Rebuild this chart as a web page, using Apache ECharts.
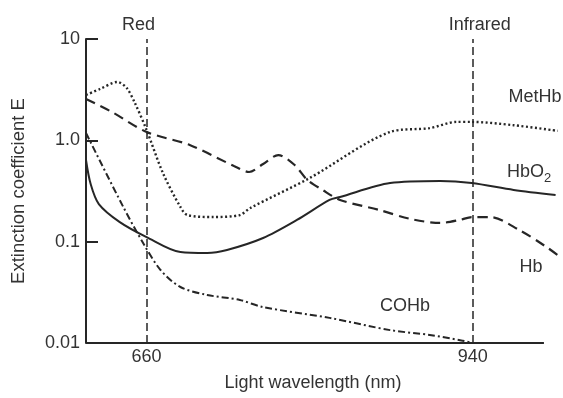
<!DOCTYPE html>
<html>
<head>
<meta charset="utf-8">
<script src="https://cdn.jsdelivr.net/npm/echarts@6/dist/echarts.min.js"></script>
<style>
html, body { margin: 0; padding: 0; background: #fff; }
#chart { width: 563px; height: 398px; }
</style>
</head>
<body>
<div id="chart"></div>
<script>
// wavelength (nm) / extinction coefficient
var hbNm = [608, 630, 660, 697, 735, 748, 760, 773, 787, 798, 811, 826, 860, 886, 912, 929, 939, 955, 980, 1002, 1015];
var hbE = [2.56, 1.91, 1.21, 0.90, 0.558, 0.487, 0.584, 0.716, 0.571, 0.406, 0.324, 0.258, 0.205, 0.168, 0.153, 0.164, 0.175, 0.175, 0.130, 0.0905, 0.0706];

var hbo2Nm = [608, 612, 619, 637, 660, 689, 712, 729, 760, 789, 817, 826, 869, 912, 939, 975, 1011];
var hbo2E = [0.64, 0.37, 0.235, 0.156, 0.111, 0.079, 0.0773, 0.0828, 0.1087, 0.1637, 0.258, 0.276, 0.379, 0.397, 0.379, 0.324, 0.289];

var metNm = [608, 620, 635, 643, 650, 660, 674, 689, 695, 717, 740, 749, 800, 869, 903, 926, 939, 975, 1013];
var metE = [2.80, 3.21, 3.77, 3.28, 2.33, 1.265, 0.476, 0.22, 0.183, 0.175, 0.183, 0.215, 0.425, 1.21, 1.32, 1.52, 1.52, 1.41, 1.24];

var cohbNm = [608, 640, 657, 672, 689, 712, 740, 760, 817, 869, 903, 930, 940];
var cohbE = [1.18, 0.22, 0.097, 0.0525, 0.0357, 0.0298, 0.0266, 0.0226, 0.0177, 0.0134, 0.0120, 0.0106, 0.01];

var yTickText = ['0.01', '0.1', '1.0', '10'];
var xTickValues = [660, 940];
var bands = [{ nm: 660, name: 'Red' }, { nm: 940, name: 'Infrared' }];

var FONT = "'Liberation Sans', Arial, sans-serif";
var INK = '#262626';
var TXT = '#333';

function pairs(xs, ys) {
	var out = [];
	for (var i = 0; i < xs.length; i++) {
		out.push([xs[i], ys[i]]);
	}
	return out;
}

function curve(name, xs, ys, type, width) {
	return {
		name: name,
		type: 'line',
		data: pairs(xs, ys),
		smooth: 0.3,
		symbol: 'none',
		clip: true,
		lineStyle: { color: INK, width: width, type: type }
	};
}

var myChart = echarts.init(document.getElementById('chart'));

var option = {
	animation: false,
	backgroundColor: '#fff',
	textStyle: { fontFamily: FONT },
	grid: { left: 86, right: 1, top: 39, bottom: 55, outerBoundsMode: 'none' },
	xAxis: {
		type: 'value',
		min: 608,
		max: 1016.5,
		name: 'Light wavelength (nm)',
		nameLocation: 'middle',
		nameGap: 31,
		nameTextStyle: { fontSize: 18, color: TXT, fontFamily: FONT, padding: [0, 22, 0, 0] },
		axisLine: { show: false },
		axisTick: { show: false },
		splitLine: { show: false },
		axisLabel: {
			customValues: xTickValues,
			margin: 5,
			fontSize: 18,
			color: TXT,
			fontFamily: FONT
		}
	},
	yAxis: {
		type: 'log',
		logBase: 10,
		min: 0.01,
		max: 10,
		name: 'Extinction coefficient E',
		nameLocation: 'middle',
		nameRotate: 90,
		nameGap: 58,
		nameTextStyle: { fontSize: 18.5, color: TXT, fontFamily: FONT },
		axisLine: { show: true, lineStyle: { color: INK, width: 2 } },
		axisTick: { show: true, inside: true, length: 12, lineStyle: { color: INK, width: 2 } },
		splitLine: { show: false },
		axisLabel: {
			margin: 6,
			fontSize: 18,
			color: TXT,
			fontFamily: FONT,
			formatter: function(v) {
				var k = Math.round(Math.log(v) / Math.LN10) + 2;
				return yTickText[k] || '';
			}
		}
	},
	series: [
		curve('MetHb', metNm, metE, [2, 2.5], 2.4),
		curve('Hb', hbNm, hbE, [10, 6], 2.2),
		curve('HbO2', hbo2Nm, hbo2E, 'solid', 2),
		curve('COHb', cohbNm, cohbE, [7, 3, 2, 3], 2),
		{
			name: 'guides',
			type: 'line',
			data: [],
			markLine: {
				silent: true,
				symbol: 'none',
				animation: false,
				data: [
					{
						xAxis: bands[0].nm,
						lineStyle: { color: INK, width: 1.5, type: [8, 4] },
						label: { show: true, position: 'end', formatter: bands[0].name, fontSize: 18, color: TXT, fontFamily: FONT, padding: [0, 16, 0, 0], distance: 5 }
					},
					{
						xAxis: bands[1].nm,
						lineStyle: { color: INK, width: 1.5, type: [8, 4] },
						label: { show: true, position: 'end', formatter: bands[1].name, fontSize: 18, color: TXT, fontFamily: FONT, padding: [0, 0, 0, 14], distance: 5 }
					},
					[
						{ coord: [608, 0.01], lineStyle: { color: INK, width: 2, type: 'solid' }, label: { show: false } },
						{ coord: [1001, 0.01] }
					]
				]
			}
		}
	],
	graphic: [
		{ type: 'text', x: 535, y: 97, style: { text: 'MetHb', align: 'center', verticalAlign: 'middle', fontSize: 18, fontFamily: FONT, fill: TXT } },
		{ type: 'text', x: 507, y: 172, style: { text: 'HbO', align: 'left', verticalAlign: 'middle', fontSize: 18, fontFamily: FONT, fill: TXT } },
		{ type: 'text', x: 544, y: 178, style: { text: '2', align: 'left', verticalAlign: 'middle', fontSize: 13, fontFamily: FONT, fill: TXT } },
		{ type: 'text', x: 531, y: 267, style: { text: 'Hb', align: 'center', verticalAlign: 'middle', fontSize: 18, fontFamily: FONT, fill: TXT } },
		{ type: 'text', x: 405, y: 306, style: { text: 'COHb', align: 'center', verticalAlign: 'middle', fontSize: 18, fontFamily: FONT, fill: TXT } }
	]
};

myChart.setOption(option);
</script>
</body>
</html>
